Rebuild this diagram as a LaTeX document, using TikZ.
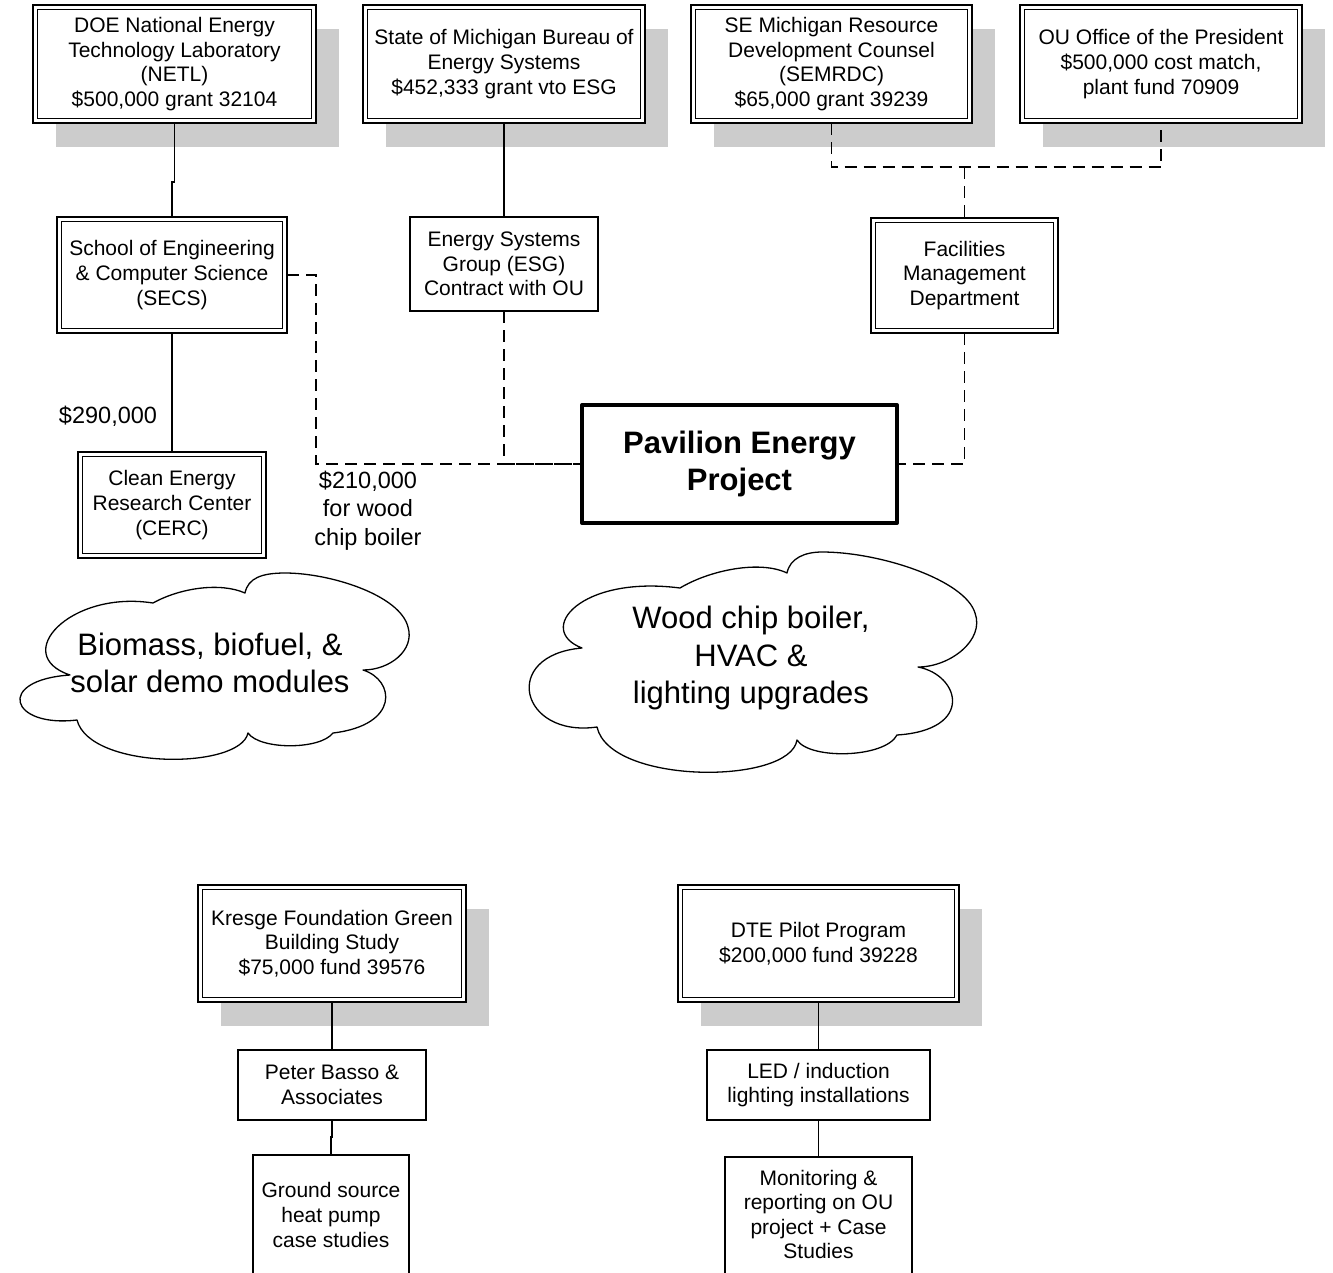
\documentclass[tikz,border=0pt]{standalone}
\usepackage{fontspec}
\setmainfont{Liberation Sans}
\usetikzlibrary{calc}
\pgfdeclarelayer{shadowlayer}
\pgfdeclarelayer{linelayer}
\pgfsetlayers{shadowlayer,linelayer,main}
\definecolor{shadowgray}{RGB}{204,204,204}
\tikzset{
  boxfont/.style={font=\fontsize{21}{24.6}\selectfont},
  basebox/.style={boxfont, align=center, inner sep=0pt, outer sep=0pt, fill=white, draw=black},
  dbox/.style={basebox, line width=1.8pt},
  sbox/.style={basebox, line width=1.8pt},
  mainbox/.style={basebox, line width=4pt, line join=round, font=\bfseries\fontsize{31}{37}\selectfont},
  plaintext/.style={boxfont, align=center, inner sep=0pt, outer sep=0pt},
  labeltext/.style={align=center, inner sep=0pt, font=\fontsize{23.5}{28.5}\selectfont},
  cloudtext/.style={align=center, inner sep=0pt, font=\fontsize{31}{37.5}\selectfont},
  conn/.style={line width=1.9pt},
  dconn/.style={line width=1.9pt, dash pattern=on 12pt off 7pt},
  innerline/.style={line width=1.6pt},
  cloudline/.style={line width=1.3pt, line join=round},
}
\begin{document}
\begin{tikzpicture}[x=1pt,y=-1pt]
\useasboundingbox (0,0) rectangle (1333,1272);
\clip (0,0) rectangle (1333,1272);

% top funding sources
\node[dbox, minimum width=283, minimum height=118] (doe) at (174.5,64)
  {DOE National Energy\\Technology Laboratory\\(NETL)\\\$500,000 grant 32104};
\node[dbox, minimum width=282, minimum height=118] (mich) at (504,64)
  {State of Michigan Bureau of\\Energy Systems\\\$452,333 grant vto ESG};
\node[dbox, minimum width=281, minimum height=118] (sem) at (831.5,64)
  {SE Michigan Resource\\Development Counsel\\(SEMRDC)\\\$65,000 grant 39239};
\node[dbox, minimum width=282, minimum height=118] (ou) at (1161,64)
  {OU Office of the President\\\$500,000 cost match,\\plant fund 70909};

% second row
\node[dbox, minimum width=230, minimum height=116] (secs) at (172,275)
  {School of Engineering\\\& Computer Science\\(SECS)};
\node[sbox, minimum width=188, minimum height=94] (esg) at (504,264)
  {Energy Systems\\Group (ESG)\\Contract with OU};
\node[dbox, minimum width=187, minimum height=115] (fac) at (964.5,275.5)
  {Facilities\\Management\\Department};
\node[dbox, minimum width=188, minimum height=106] (cerc) at (172,505)
  {Clean Energy\\Research Center\\(CERC)};
\node[mainbox, minimum width=315, minimum height=118] (pav) at (739.5,464)
  {Pavilion Energy\\Project};

\node[labeltext] (l290) at (108,416) {\$290,000};
\node[labeltext] (l210) at (368,510.5) {\$210,000\\for wood\\chip boiler};

% clouds
\draw[cloudline] (70,675) .. controls (10,655) and (70,590) .. (153,603)
 .. controls (180,588) and (220,582) .. (245,593)
 .. controls (248,578) and (262,573) .. (285,573)
 .. controls (330,573) and (400,595) .. (408,627)
 .. controls (415,650) and (390,670) .. (363,670)
 .. controls (395,680) and (400,725) .. (333,733)
 .. controls (320,750) and (260,750) .. (248,733)
 .. controls (240,770) and (90,770) .. (77,720)
 .. controls (10,728) and (-5,680) .. (70,675) -- cycle;
\node[cloudtext] (cl1) at (210,663) {Biomass, biofuel, \&\\solar demo modules};

\draw[cloudline] (582,648) .. controls (535,630) and (580,575) .. (680,588)
 .. controls (710,570) and (760,560) .. (787,573)
 .. controls (790,558) and (805,552) .. (822,552)
 .. controls (880,552) and (965,580) .. (975,613)
 .. controls (985,640) and (950,667) .. (918,667)
 .. controls (960,675) and (975,730) .. (897,735)
 .. controls (885,758) and (810,760) .. (797,740)
 .. controls (790,785) and (610,785) .. (597,727)
 .. controls (520,738) and (500,655) .. (582,648) -- cycle;
\node[cloudtext] (cl2) at (751,658) {Wood chip boiler,\\HVAC \&\\lighting upgrades};

% bottom section
\node[dbox, minimum width=268, minimum height=117] (kres) at (332,943.5)
  {Kresge Foundation Green\\Building Study\\\$75,000 fund 39576};
\node[dbox, minimum width=281, minimum height=117] (dte) at (818.5,943.5)
  {DTE Pilot Program\\\$200,000 fund 39228};
\node[sbox, minimum width=188, minimum height=70] (basso) at (332,1085)
  {Peter Basso \&\\Associates};
\node[sbox, minimum width=223, minimum height=70] (led) at (818.5,1085)
  {LED / induction\\lighting installations};
\node[sbox, minimum width=156, minimum height=134] (ground) at (331,1222) {};
\node[plaintext] (groundtxt) at (331,1215) {Ground source\\heat pump\\case studies};
\node[sbox, minimum width=187, minimum height=132] (mon) at (818.5,1223) {};
\node[plaintext] (montxt) at (818.5,1214.5) {Monitoring \&\\reporting on OU\\project + Case\\Studies};

% inner lines of double boxes
\foreach \n in {doe,mich,sem,ou,secs,fac,cerc,kres,dte}
  \draw[innerline] ($(\n.north west)+(4.6,4.6)$) rectangle ($(\n.south east)+(-4.6,-4.6)$);

% shadows
\begin{pgfonlayer}{shadowlayer}
  \fill[white] (0,0) rectangle (1333,1272);
  \foreach \n in {doe,mich,sem,ou,kres,dte}
    \fill[shadowgray] ($(\n.north west)+(23,24)$) rectangle ($(\n.south east)+(23,24)$);
\end{pgfonlayer}

% connectors
\begin{pgfonlayer}{linelayer}
  \draw[conn] (doe.south) -- ++(0,59) -| (secs.north);
  \draw[conn] (mich.south) -- (esg.north);
  \draw[conn] (secs.south) -- (cerc.north);
  \draw[dconn] (secs.east) -- ++(29,0) |- (pav.west);
  \draw[dconn] (esg.south) |- (pav.west);
  \coordinate (junc) at (964.5,167);
  \draw[dconn] (sem.south) |- (junc) -| (ou.south);
  \draw[dconn] (junc) -- (fac.north);
  \draw[dconn] (fac.south) |- (pav.east);
  \draw[conn] (kres.south) -- (basso.north);
  \draw[conn] (basso.south) -- ++(0,17) -| (ground.north);
  \draw[conn] (dte.south) -- (led.north);
  \draw[conn] (led.south) -- (mon.north);
\end{pgfonlayer}
\end{tikzpicture}
\end{document}
